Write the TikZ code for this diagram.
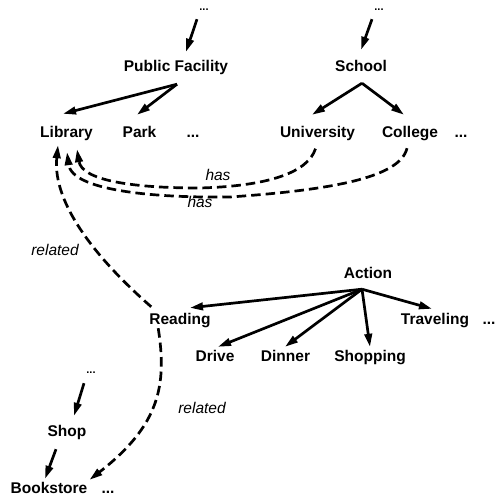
\documentclass[tikz,border=0pt]{standalone}
\usepackage{fontspec}
\setmainfont{Liberation Sans}
\usetikzlibrary{arrows.meta}

\tikzset{
  concept/.style={anchor=base, inner sep=0pt, text height=11.5pt, text depth=3.5pt,
    font=\bfseries\fontsize{15.5}{18}\selectfont},
  more/.style={anchor=base, inner sep=0pt, text height=3pt, text depth=0pt,
    font=\bfseries\fontsize{11}{13}\selectfont},
  rel/.style={anchor=base, inner sep=0pt, font=\itshape\fontsize{15.5}{18}\selectfont},
  isa/.style={line width=2.7pt, -{Triangle[length=13pt,width=7.5pt]}},
  link/.style={line width=2.7pt, dash pattern=on 9.5pt off 5pt, -{Triangle[length=13pt,width=7.5pt]}}
}

\begin{document}
\begin{tikzpicture}[x=1pt,y=-1pt]
\useasboundingbox (0,0) rectangle (494,502);

% concepts
\node[more]    (tl)   at (204,11)  {...};
\node[more]    (tr)   at (379,11)  {...};
\node[concept] (pf)   at (176,72)  {Public Facility};
\node[concept] (sc)   at (361,72)  {School};
\node[concept] (lib)  at (66.5,138) {Library};
\node[concept] (park) at (139.5,138) {Park};
\node[concept] (d1)   at (193,138) {...};
\node[concept] (uni)  at (317.5,138) {University};
\node[concept] (col)  at (410,138) {College};
\node[concept] (d2)   at (461,138) {...};
\node[concept] (act)  at (368,278) {Action};
\node[concept] (rd)   at (180,324) {Reading};
\node[concept] (trv)  at (435,324) {Traveling};
\node[concept] (d3)   at (489,324) {...};
\node[concept] (drv)  at (215,361) {Drive};
\node[concept] (din)  at (285.5,361) {Dinner};
\node[concept] (shp)  at (370,361) {Shopping};
\node[more]    (d4)   at (91,373)  {...};
\node[concept] (shop) at (67,436)  {Shop};
\node[concept] (bk)   at (49,493)  {Bookstore};
\node[concept] (d5)   at (108,493) {...};

% relation labels
\node[rel] (has1) at (218,181) {has};
\node[rel] (has2) at (200,208) {has};
\node[rel] (rel1) at (55,255)  {related};
\node[rel] (rel2) at (202,413) {related};

% is-a hierarchy
\draw[isa] ([shift={(-7,8)}]tl.south)    -- ([shift={(10,-8.5)}]pf.north);
\draw[isa] ([shift={(-7,8)}]tr.south)    -- ([shift={(0,-10.5)}]sc.north);
\draw[isa] ([shift={(1,8.5)}]pf.south)   -- ([shift={(-3.5,-12.5)}]lib.north);
\draw[isa] ([shift={(1,8.5)}]pf.south)   -- ([shift={(-2.5,-11.5)}]park.north);
\draw[isa] ([shift={(1,7.5)}]sc.south)   -- ([shift={(-5.5,-11.5)}]uni.north);
\draw[isa] ([shift={(1,7.5)}]sc.south)   -- ([shift={(-6,-11.5)}]col.north);
\draw[isa] ([shift={(-6,7.5)}]act.south) -- ([shift={(10,-4.5)}]rd.north);
\draw[isa] ([shift={(-6,7.5)}]act.south) -- ([shift={(-3,-3.5)}]trv.north);
\draw[isa] ([shift={(-6,7.5)}]act.south) -- ([shift={(3,-2.5)}]drv.north);
\draw[isa] ([shift={(-6,7.5)}]act.south) -- ([shift={(-0.5,-2.5)}]din.north);
\draw[isa] ([shift={(-6,7.5)}]act.south) -- ([shift={(0,-2.5)}]shp.north);
\draw[isa] ([shift={(-7,10)}]d4.south)   -- ([shift={(7,-8.5)}]shop.north);
\draw[isa] ([shift={(-11,9.5)}]shop.south) -- ([shift={(-4,-2.5)}]bk.north);

% associations
\draw[link] ([shift={(-2,7)}]uni.south)
  .. controls (308,172) and (270,186) .. (200,188)
  .. controls (130,188) and (82,180) .. ([shift={(10.5,7.5)}]lib.south);
\draw[link] ([shift={(-3,6.5)}]col.south)
  .. controls (400,178) and (330,190) .. (230,197)
  .. controls (150,198) and (72,190) .. ([shift={(0.5,10.5)}]lib.south);
\draw[link] ([shift={(2,-5.5)}]rd.north west)
  .. controls (100,262) and (52,205) .. ([shift={(-8.5,3.5)}]lib.south);
\draw[link] ([shift={(9,0.5)}]rd.south west)
  .. controls (167,385) and (160,425) .. ([shift={(2,-1.5)}]bk.north east);
\end{tikzpicture}
\end{document}
